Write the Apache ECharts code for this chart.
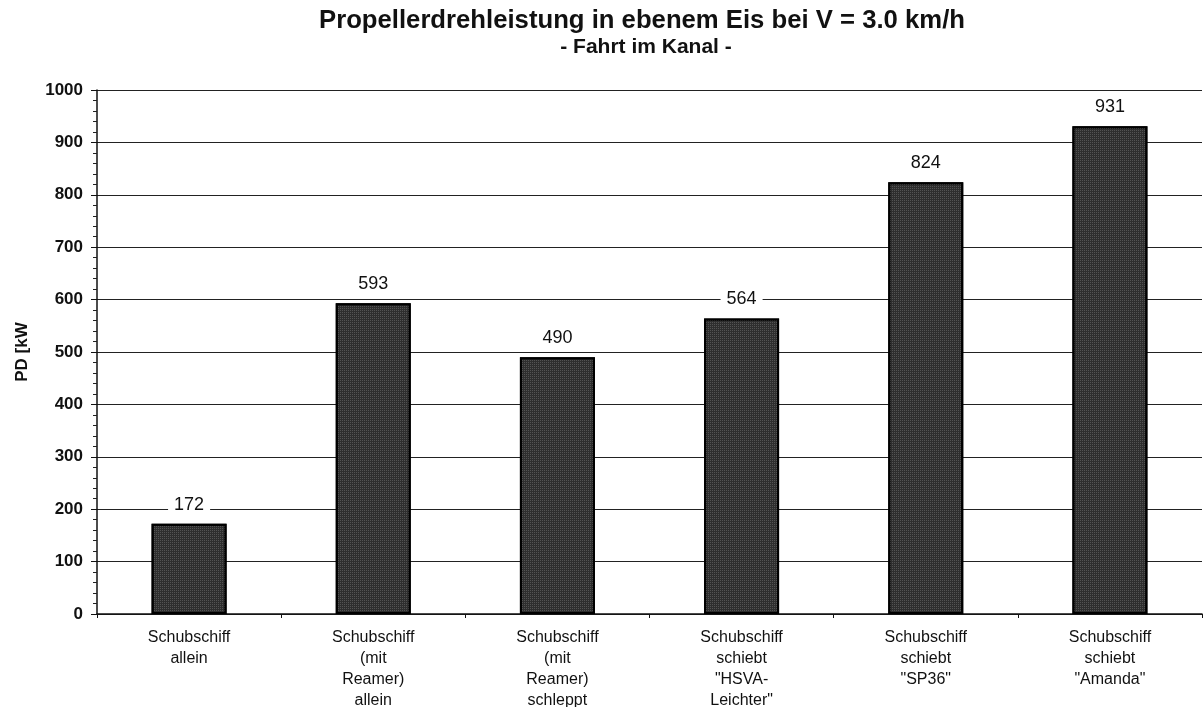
<!DOCTYPE html>
<html>
<head>
<meta charset="utf-8">
<script src="https://cdn.jsdelivr.net/npm/echarts@6/dist/echarts.min.js"></script>
<style>
  html, body { margin: 0; padding: 0; background: #fff; overflow: hidden; }
  #chart { width: 1204px; height: 707px; }
</style>
</head>
<body>
<div id="chart"></div>
<script>
// Propeller power in level ice at 3.0 km/h, channel run
const categories = [
  'Schubschiff\nallein',
  'Schubschiff\n(mit\nReamer)\nallein',
  'Schubschiff\n(mit\nReamer)\nschleppt',
  'Schubschiff\nschiebt\n"HSVA-\nLeichter"',
  'Schubschiff\nschiebt\n"SP36"',
  'Schubschiff\nschiebt\n"Amanda"'
];
const powerKW = [172, 593, 490, 564, 824, 931];
const yTicks = [0, 100, 200, 300, 400, 500, 600, 700, 800, 900, 1000];

const font = 'Liberation Sans, Arial, sans-serif';
const chart = echarts.init(document.getElementById('chart'));
chart.setOption({
  backgroundColor: '#ffffff',
  animation: false,
  title: [
    {
      text: 'Propellerdrehleistung in ebenem Eis bei V = 3.0 km/h',
      left: 637, top: 3, textAlign: 'center',
      textStyle: { fontFamily: font, fontSize: 25.7, fontWeight: 'bold', color: '#111' }
    },
    {
      text: '- Fahrt im Kanal -',
      left: 641, top: 32, textAlign: 'center',
      textStyle: { fontFamily: font, fontSize: 21, fontWeight: 'bold', color: '#111' }
    }
  ],
  grid: {
    left: 97, width: 1105, top: 90, height: 524,
    containLabel: false, outerBoundsMode: 'none'
  },
  xAxis: {
    type: 'category',
    data: categories,
    axisLine: { lineStyle: { color: '#111', width: 1.5 } },
    axisTick: { show: true, length: 4, inside: false, lineStyle: { color: '#111' } },
    axisLabel: {
      fontFamily: font, fontSize: 16, color: '#111', lineHeight: 21, margin: 13,
      interval: 0
    }
  },
  yAxis: {
    type: 'value',
    min: yTicks[0], max: yTicks[yTicks.length - 1], interval: 100,
    name: 'PD [kW',
    nameLocation: 'middle',
    nameGap: 66,
    nameRotate: 90,
    nameTextStyle: { fontFamily: font, fontSize: 17, fontWeight: 'bold', color: '#111' },
    axisLine: { show: true, lineStyle: { color: '#111', width: 1.5 } },
    axisTick: { show: true, length: 6, lineStyle: { color: '#111' } },
    minorTick: { show: true, splitNumber: 5, length: 4, lineStyle: { color: '#222' } },
    axisLabel: {
      fontFamily: font, fontSize: 17, fontWeight: 'bold', color: '#111', margin: 14,
      formatter: v => String(v)
    },
    splitLine: { show: true, lineStyle: { color: '#222', width: 1.2 } }
  },
  series: [{
    type: 'bar',
    data: powerKW,
    barWidth: 75,
    itemStyle: {
      color: '#2e2e2e', borderColor: '#000', borderWidth: 2,
      decal: {
        symbol: 'rect', symbolSize: 1, color: 'rgba(255,255,255,0.18)',
        dashArrayX: [1, 1], dashArrayY: [1, 1], rotation: 0
      }
    },
    label: {
      show: true, position: 'top', distance: 8,
      fontFamily: font, fontSize: 18, color: '#111',
      backgroundColor: '#fff', padding: [2, 6]
    }
  }]
});
</script>
</body>
</html>
